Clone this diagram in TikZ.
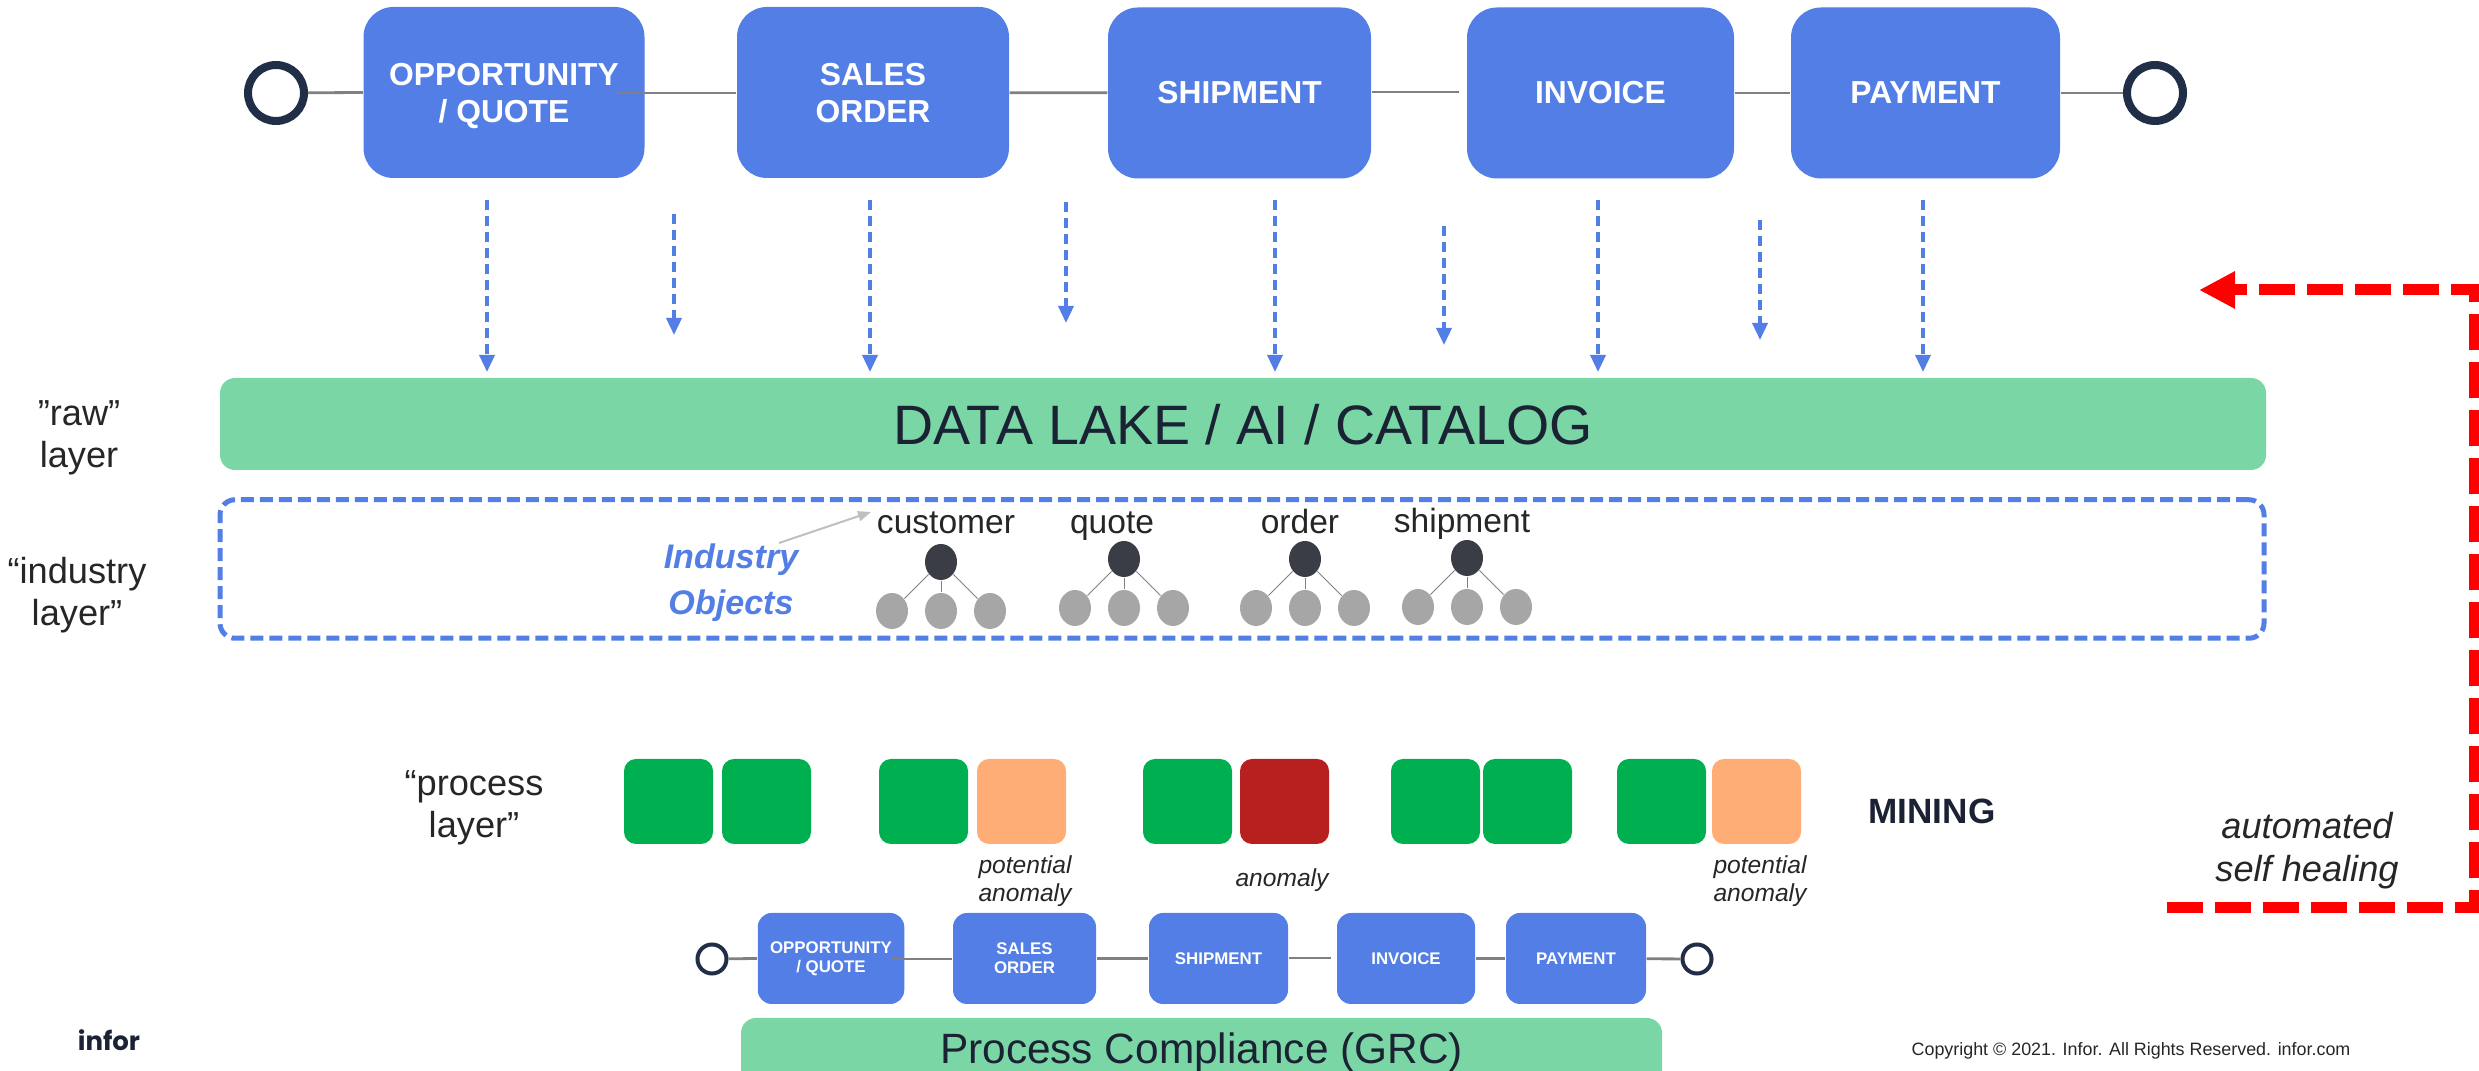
\documentclass[tikz,border=0pt]{standalone}
\usepackage{fontspec}
\setmainfont{Liberation Sans}
\newfontfamily\logofont{Poppins}
\usetikzlibrary{arrows.meta,shapes.geometric}
\definecolor{stepblue}{HTML}{527EE5}
\definecolor{lakegreen}{HTML}{7AD7A5}
\definecolor{inkdark}{HTML}{1A2233}
\definecolor{ringdark}{HTML}{212E48}
\definecolor{rootdark}{HTML}{3A3D45}
\definecolor{okgreen}{HTML}{00B050}
\definecolor{warnorange}{HTML}{FFAD76}
\definecolor{badred}{HTML}{B8201F}
\tikzset{
	bigstep/.style={draw=none, fill=stepblue, rounded corners=0.3cm, inner sep=0, minimum height=1.71cm, align=center, text=white, font=\fontsize{9.05}{10.5}\selectfont\bfseries},
	smallstep/.style={draw=none, fill=stepblue, rounded corners=0.14cm, inner sep=0, minimum height=0.91cm, align=center, text=white, font=\fontsize{4.8}{5.4}\selectfont\bfseries},
	bigring/.style={circle, draw=ringdark, line width=0.08cm, inner sep=0, minimum size=0.56cm},
	smallring/.style={circle, draw=ringdark, line width=0.04cm, inner sep=0, minimum size=0.29cm},
	flowline/.style={color=black!50, line width=0.028cm},
	feedline/.style={color=stepblue, line width=0.035cm, dash pattern=on 0.10cm off 0.06cm, -{Triangle[length=0.17cm,width=0.15cm]}},
	lakebar/.style={fill=lakegreen, rounded corners=0.15cm, inner sep=0, text=inkdark},
	layerlabel/.style={align=center, text=black!85, font=\fontsize{10.3}{12}\selectfont},
	rootdot/.style={ellipse, fill=rootdark, inner sep=0, minimum width=0.32cm, minimum height=0.36cm},
	leafdot/.style={ellipse, fill=black!35, inner sep=0, minimum width=0.32cm, minimum height=0.36cm},
	objectname/.style={anchor=base, text=black!85, font=\fontsize{9.55}{11}\selectfont},
	tile/.style={rounded corners=0.12cm, inner sep=0, minimum width=0.89cm, minimum height=0.85cm},
	note/.style={align=center, text=black!85, font=\fontsize{7}{8}\selectfont\itshape}
}
\def\feed#1(#2:#3:#4){\coordinate (#1s) at (#2,#3); \coordinate (#1e) at (#2,#4); \draw[feedline] (#1s) -- (#1e);}
\def\objecttree#1(#2,#3){
	\node[rootdot] (#1top) at (#2,#3) {};
	\node[leafdot] (#1a) at (#2-0.49,#3-0.49) {};
	\node[leafdot] (#1b) at (#2,#3-0.49) {};
	\node[leafdot] (#1c) at (#2+0.49,#3-0.49) {};
	\draw[color=black!50, line width=0.01cm] (#1top) -- (#1a);
	\draw[color=black!50, line width=0.01cm] (#1top) -- (#1b);
	\draw[color=black!50, line width=0.01cm] (#1top) -- (#1c);
}

\begin{document}
\begin{tikzpicture}
	%%%%% START %%%%%
	\useasboundingbox (0, 0) rectangle (24.79, 10.71);

	\node[bigring] (bigstart) at (2.76, 9.78) {};
	\node[bigstep, minimum width=2.81cm, text depth=0pt] (bigquote) at (5.04, 9.785) {OPPORTUNITY\\/ QUOTE};
	\node[bigstep, minimum width=2.72cm, text depth=0pt] (bigorder) at (8.73, 9.785) {SALES\\ORDER};
	\node[bigstep, minimum width=2.63cm] (bigship) at (12.395, 9.78) {SHIPMENT};
	\node[bigstep, minimum width=2.67cm] (biginv) at (16.005, 9.78) {INVOICE};
	\node[bigstep, minimum width=2.69cm] (bigpay) at (19.255, 9.78) {PAYMENT};
	\node[bigring] (bigend) at (21.55, 9.78) {};

	\coordinate (bigquoteout) at (6.17, 9.78);
	\coordinate (bigshipout) at (14.59, 9.79);
	\draw[flowline] (bigstart) -- (bigquote.west);
	\draw[flowline] (bigquoteout) -- (bigorder.west |- bigquoteout);
	\draw[flowline] (bigorder) -- (bigship);
	\draw[flowline] (bigship.east |- bigshipout) -- (bigshipout);
	\draw[flowline] (biginv) -- (bigpay);
	\draw[flowline] (bigpay) -- (bigend);

	\feed{fa}(4.87:8.71:6.99)
	\feed{fb}(6.74:8.57:7.36)
	\feed{fc}(8.70:8.71:6.99)
	\feed{fd}(10.66:8.69:7.48)
	\feed{fe}(12.75:8.71:6.99)
	\feed{ff}(14.44:8.45:7.26)
	\feed{fg}(15.98:8.71:6.99)
	\feed{fh}(17.60:8.51:7.31)
	\feed{fi}(19.23:8.71:6.99)

	\node[lakebar, minimum width=20.46cm, minimum height=0.92cm, font=\fontsize{15.8}{18}\selectfont, text depth=0pt] (lake) at (12.43, 6.47) {DATA LAKE / AI / CATALOG};
	\node[draw=stepblue, line width=0.05cm, dash pattern=on 0.13cm off 0.06cm, rounded corners=0.15cm, inner sep=0, minimum width=20.44cm, minimum height=1.385cm] (objectbox) at (12.42, 5.02) {};

	\node[layerlabel] (rawlabel) at (0.79, 6.33) {”raw”\\layer};
	\node[layerlabel] (industrylabel) at (0.77, 4.755) {“industry\\layer”};
	\node[layerlabel] (processlabel) at (4.74, 2.635) {“process\\layer”};

	\node[align=center, text=stepblue, font=\fontsize{9.7}{13}\selectfont\bfseries\itshape] (objectstitle) at (7.31, 4.88) {Industry\\Objects};
	\node[objectname] (custname) at (9.46, 5.37) {customer};
	\node[objectname] (quotename) at (11.12, 5.375) {quote};
	\node[objectname] (ordername) at (13.00, 5.375) {order};
	\node[objectname] (shipname) at (14.62, 5.38) {shipment};
	\coordinate (titlefrom) at (7.79, 5.28);
	\coordinate (titleto) at (8.71, 5.59);
	\draw[color=black!25, line width=0.02cm, -{Triangle[length=0.13cm,width=0.1cm]}] (titlefrom) -- (titleto);

	\objecttree{cust}(9.41,5.09)
	\objecttree{quote}(11.24,5.12)
	\objecttree{order}(13.05,5.12)
	\objecttree{ship}(14.67,5.13)

	\node[tile, fill=okgreen] (tileaa) at (6.685, 2.695) {};
	\node[tile, fill=okgreen] (tileab) at (7.665, 2.695) {};
	\node[tile, fill=okgreen] (tileba) at (9.235, 2.695) {};
	\node[tile, fill=warnorange] (tilebb) at (10.215, 2.695) {};
	\node[tile, fill=okgreen] (tileca) at (11.875, 2.695) {};
	\node[tile, fill=badred] (tilecb) at (12.845, 2.695) {};
	\node[tile, fill=okgreen] (tileda) at (14.355, 2.695) {};
	\node[tile, fill=okgreen] (tiledb) at (15.275, 2.695) {};
	\node[tile, fill=okgreen] (tileea) at (16.615, 2.695) {};
	\node[tile, fill=warnorange] (tileeb) at (17.565, 2.695) {};

	\node[text=inkdark, font=\fontsize{10}{12}\selectfont\bfseries] (mininglabel) at (19.32, 2.6) {MINING};
	\node[note] (notea) at (10.25, 1.90) {potential\\anomaly};
	\node[note] (noteb) at (12.82, 1.91) {anomaly};
	\node[note] (notec) at (17.60, 1.90) {potential\\anomaly};

	\node[smallring] (smallstart) at (7.12, 1.12) {};
	\node[smallstep, minimum width=1.465cm] (smallquote) at (8.31, 1.125) {OPPORTUNITY\\/ QUOTE};
	\node[smallstep, minimum width=1.43cm] (smallorder) at (10.245, 1.125) {SALES\\ORDER};
	\node[smallstep, minimum width=1.39cm] (smallship) at (12.185, 1.125) {SHIPMENT};
	\node[smallstep, minimum width=1.38cm] (smallinv) at (14.06, 1.125) {INVOICE};
	\node[smallstep, minimum width=1.40cm] (smallpay) at (15.76, 1.125) {PAYMENT};
	\node[smallring] (smallend) at (16.97, 1.12) {};

	\coordinate (smallquoteout) at (8.91, 1.12);
	\coordinate (smallshipout) at (13.31, 1.13);
	\draw[flowline] (smallstart) -- (smallquote.west);
	\draw[flowline] (smallquoteout) -- (smallorder.west |- smallquoteout);
	\draw[flowline] (smallorder) -- (smallship);
	\draw[flowline] (smallship.east |- smallshipout) -- (smallshipout);
	\draw[flowline] (smallinv) -- (smallpay);
	\draw[flowline] (smallpay) -- (smallend);

	\node[lakebar, minimum width=9.21cm, minimum height=0.70cm, font=\fontsize{12.06}{14}\selectfont] (compliance) at (12.015, 0.18) {Process Compliance (GRC)};

	\coordinate (healfrom) at (21.67, 1.635);
	\coordinate (healcornera) at (24.74, 1.635);
	\coordinate (healcornerb) at (24.74, 7.81);
	\coordinate (healto) at (21.99, 7.81);
	\draw[color=red, line width=0.11cm, dash pattern=on 0.36cm off 0.12cm, -{Triangle[length=0.36cm,width=0.35cm]}] (healfrom) -- (healcornera) -- (healcornerb) -- (healto);
	\node[layerlabel, font=\fontsize{10.3}{12.2}\selectfont\itshape] (heallabel) at (23.07, 2.20) {automated\\self healing};

	\node[text=inkdark, font=\logofont\bfseries\fontsize{7.4}{9}\selectfont] (logo) at (1.09, 0.31) {infor};
	\node[text=black!85, font=\fontsize{5.09}{6.5}\selectfont] (copyright) at (21.31, 0.20) {Copyright © 2021. Infor. All Rights Reserved. infor.com};
	%%%%% END %%%%%
\end{tikzpicture}
\end{document}
